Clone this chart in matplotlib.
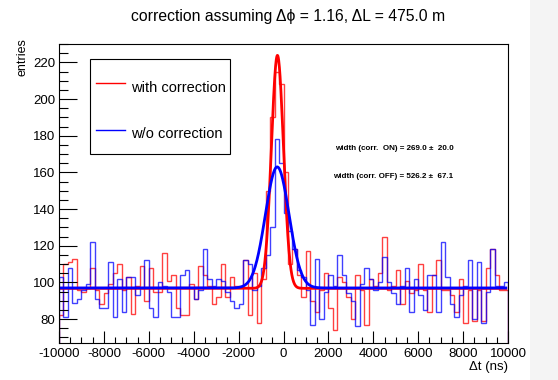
import numpy as np
import matplotlib
matplotlib.use('Agg')
import matplotlib.pyplot as plt
from matplotlib.ticker import MultipleLocator
from matplotlib.patches import Rectangle

# histogram bin edges: 100 bins of 200 ns
bin_lo, bin_hi, n_bins = -10000, 10000, 100

# entries per bin
with_corr = [82, 110, 111, 113, 96, 95, 97, 108, 96, 88,
             94, 99, 105, 110, 96, 103, 83, 98, 109, 90,
             108, 95, 95, 116, 101, 104, 86, 82, 82, 99,
             91, 109, 104, 98, 88, 92, 110, 92, 103, 98,
             98, 112, 82, 105, 78, 102, 150, 190, 215, 208,
             160, 110, 118, 104, 92, 117, 90, 84, 96, 105,
             86, 74, 103, 100, 92, 80, 104, 96, 77, 102,
             98, 105, 125, 96, 98, 107, 88, 101, 94, 96,
             110, 96, 84, 104, 112, 96, 96, 93, 84, 102,
             78, 96, 79, 96, 79, 108, 118, 104, 96, 96]
wo_corr = [103, 81, 108, 89, 91, 96, 99, 122, 91, 86,
           86, 111, 81, 102, 84, 103, 103, 93, 97, 112,
           86, 81, 100, 98, 95, 81, 81, 104, 107, 97,
           91, 96, 118, 102, 98, 102, 101, 95, 90, 86,
           88, 112, 110, 96, 98, 108, 115, 130, 178, 165,
           138, 128, 118, 107, 103, 96, 77, 113, 80, 95,
           104, 98, 115, 104, 94, 90, 76, 99, 108, 102,
           96, 100, 114, 100, 94, 88, 98, 108, 84, 102,
           93, 85, 104, 104, 84, 122, 103, 88, 81, 93,
           98, 112, 80, 111, 78, 95, 118, 98, 98, 100]

# gaussian + constant fit parameters
fit_on = dict(const=96.8, amp=127.0, mean=-270.0, sigma=269.0)
fit_off = dict(const=97.0, amp=66.0, mean=-280.0, sigma=526.2)
fit_range = (-9900, 9900)

title = u'correction assuming \u0394\u03d5 = 1.16, \u0394L = 475.0 m'
label_on = 'with correction'
label_off = 'w/o correction'
stat_on = u'width (corr.  ON) = 269.0 \u00b1  20.0'
stat_off = u'width (corr. OFF) = 526.2 \u00b1  67.1'

plt.rcParams['font.family'] = ['Liberation Sans', 'DejaVu Sans']
plt.rcParams['axes.unicode_minus'] = False

fig = plt.figure(figsize=(5.58, 3.8), dpi=100)
# light grey strip of the screenshot at the right edge
fig.patches.append(Rectangle((530 / 558, 0), 28 / 558, 1, transform=fig.transFigure,
                             color='#f4f4f4', lw=0, zorder=-10))
ax = fig.add_axes([59 / 558, 1 - 343 / 380, 449 / 558, 299 / 380])

edges = np.linspace(bin_lo, bin_hi, n_bins + 1)
ax.stairs(with_corr, edges, color='#ff0000', lw=1.0, alpha=0.75)
ax.stairs(wo_corr, edges, color='#0000ff', lw=1.0, alpha=0.75)

def gaus(x, p):
    return p['const'] + p['amp'] * np.exp(-0.5 * ((x - p['mean']) / p['sigma']) ** 2)

xf = np.linspace(fit_range[0], fit_range[1], 2000)
ax.plot(xf, gaus(xf, fit_on), color='#ff0000', lw=2)
ax.plot(xf, gaus(xf, fit_off), color='#0000ff', lw=2)

ax.set_xlim(bin_lo, bin_hi)
ax.set_ylim(67, 230)
ax.xaxis.set_major_locator(MultipleLocator(2000))
ax.xaxis.set_minor_locator(MultipleLocator(500))
ax.yaxis.set_major_locator(MultipleLocator(20))
ax.yaxis.set_minor_locator(MultipleLocator(5))
ax.tick_params(axis='both', which='both', direction='in', labelsize=9.5,
               top=False, right=False, width=0.8)
ax.tick_params(axis='x', which='major', length=9)
ax.tick_params(axis='x', which='minor', length=4.5)
ax.tick_params(axis='y', which='major', length=13, pad=2.5)
ax.tick_params(axis='y', which='minor', length=6.5)
for s in ax.spines.values():
    s.set_linewidth(0.8)

fig.text(288 / 558, 1 - 17 / 380, title, fontsize=11.3, ha='center', va='center')
ax.set_ylabel('entries', fontsize=9, loc='top')
ax.yaxis.set_label_coords(-0.068, 1.02)
ax.set_xlabel(u'\u0394t (ns)', fontsize=9.5, loc='right', labelpad=1)

# legend box drawn by hand, ROOT style
fig.patches.append(Rectangle((90 / 558, 1 - 154 / 380), 140 / 558, 95 / 380,
                             transform=fig.transFigure, fill=False, lw=0.8,
                             edgecolor='black', zorder=5))
fig.lines.append(plt.Line2D([96 / 558, 125 / 558], [1 - 83 / 380] * 2,
                            transform=fig.transFigure, color='#ff0000', lw=1))
fig.lines.append(plt.Line2D([96 / 558, 125 / 558], [1 - 130 / 380] * 2,
                            transform=fig.transFigure, color='#0000ff', lw=1))
fig.text(131 / 558, 1 - 88 / 380, label_on, fontsize=10.5, va='center')
fig.text(131 / 558, 1 - 134 / 380, label_off, fontsize=10.5, va='center')

fig.text(335 / 558, 1 - 148 / 380, stat_on, fontsize=5.8, fontweight='bold', va='center')
fig.text(333 / 558, 1 - 176 / 380, stat_off, fontsize=5.8, fontweight='bold', va='center')

fig.savefig('out.png', dpi=100)
